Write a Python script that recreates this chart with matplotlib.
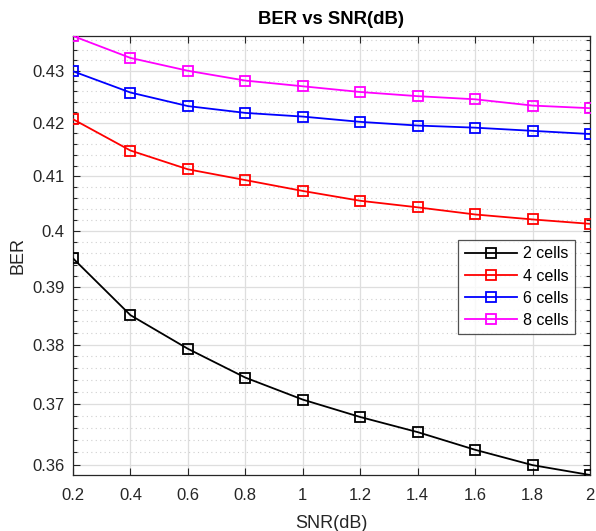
import matplotlib
matplotlib.use("Agg")
import matplotlib.pyplot as plt
from matplotlib.ticker import FixedLocator, FixedFormatter, NullFormatter
import numpy as np

snr = [0.2, 0.4, 0.6, 0.8, 1.0, 1.2, 1.4, 1.6, 1.8, 2.0]
ber_2 = [0.3951, 0.3851, 0.3793, 0.3744, 0.3707, 0.3678, 0.3653, 0.3624, 0.3599, 0.3583]
ber_4 = [0.4207, 0.4148, 0.4113, 0.4093, 0.4073, 0.4055, 0.4043, 0.4030, 0.4021, 0.4013]
ber_6 = [0.4299, 0.4258, 0.4232, 0.4219, 0.4212, 0.4202, 0.4195, 0.4191, 0.4185, 0.4179]
ber_8 = [0.4368, 0.4325, 0.4300, 0.4281, 0.4270, 0.4259, 0.4251, 0.4245, 0.4233, 0.4228]
labels = ["2 cells", "4 cells", "6 cells", "8 cells"]
colors = ["black", "#ff0000", "#0000ff", "#ff00ff"]

xticks = [0.2, 0.4, 0.6, 0.8, 1.0, 1.2, 1.4, 1.6, 1.8, 2.0]
xticklabels = ["0.2", "0.4", "0.6", "0.8", "1", "1.2", "1.4", "1.6", "1.8", "2"]
yticks = [0.36, 0.37, 0.38, 0.39, 0.40, 0.41, 0.42, 0.43]
yticklabels = ["0.36", "0.37", "0.38", "0.39", "0.4", "0.41", "0.42", "0.43"]
yminor = [0.358 + 0.002 * i for i in range(40)]

plt.rcParams['font.family'] = ['Liberation Sans', 'DejaVu Sans']
axc = "#262626"

fig = plt.figure(figsize=(5.96, 5.31), dpi=100)
ax = fig.add_axes([73 / 596, 1 - 475 / 531, (590 - 73) / 596, (475 - 36) / 531])

for ys, lab, c in zip([ber_2, ber_4, ber_6, ber_8], labels, colors):
    ax.plot(snr, ys, color=c, lw=1.3, marker="s", markersize=7.5,
            markerfacecolor="none", markeredgewidth=1.3, label=lab, zorder=3)

ax.set_yscale("log")
ax.set_xlim(0.2, 2.0)
ymin = min(ber_2 + ber_4 + ber_6 + ber_8)
ymax = max(ber_2 + ber_4 + ber_6 + ber_8)
ax.set_ylim(ymin, ymax)

ax.xaxis.set_major_locator(FixedLocator(xticks))
ax.xaxis.set_major_formatter(FixedFormatter(xticklabels))
ax.yaxis.set_major_locator(FixedLocator(yticks))
ax.yaxis.set_major_formatter(FixedFormatter(yticklabels))
ax.yaxis.set_minor_locator(FixedLocator([v for v in yminor if abs(round(v * 100) - v * 100) > 1e-6]))
ax.yaxis.set_minor_formatter(NullFormatter())
ax.xaxis.set_minor_locator(FixedLocator([]))

ax.grid(True, which="major", color="#dedede", lw=0.9, ls="-", zorder=0)
ax.grid(True, which="minor", axis="y", color="#cfcfcf", lw=0.8, ls=(0, (1, 3)), zorder=0)
ax.set_axisbelow(True)

ax.tick_params(which="both", direction="in", top=True, right=True, colors=axc,
               labelsize=12, width=0.8)
ax.tick_params(which="major", length=5, pad=6)
ax.tick_params(axis="x", which="major", pad=9)
ax.tick_params(which="minor", length=3)
for s in ax.spines.values():
    s.set_color(axc)
    s.set_linewidth(0.9)

ax.set_xlabel("SNR(dB)", fontsize=13, color=axc, labelpad=9)
ax.set_ylabel("BER", fontsize=13, color=axc, labelpad=4)
ax.set_title("BER vs SNR(dB)", fontsize=13.3, fontweight="bold", color="black", pad=9)

leg = ax.legend(loc="upper right", bbox_to_anchor=((575 - 73) / 517, (475 - 240) / 439),
                fontsize=11.5, frameon=True, fancybox=False, edgecolor="#262626",
                handlelength=3.3, borderpad=0.4, labelspacing=0.45, handletextpad=0.35,
                borderaxespad=0)
leg.get_frame().set_linewidth(0.9)

fig.savefig("out.png", dpi=100, facecolor="white")
